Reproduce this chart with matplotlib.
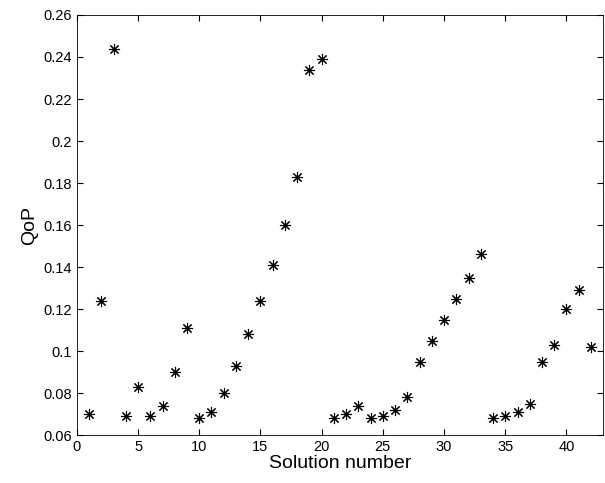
import matplotlib
matplotlib.use("Agg")
import matplotlib.pyplot as plt

plt.rcParams["font.family"] = ["Liberation Sans", "DejaVu Sans"]

solution = list(range(1, 43))
qop = [
    0.070, 0.124, 0.244, 0.069, 0.083, 0.069, 0.074, 0.090, 0.111, 0.068,
    0.071, 0.080, 0.093, 0.108, 0.124, 0.141, 0.160, 0.183, 0.234, 0.239,
    0.068, 0.070, 0.074, 0.068, 0.069, 0.072, 0.078, 0.095, 0.105, 0.115,
    0.125, 0.135, 0.146, 0.068, 0.069, 0.071, 0.075, 0.095, 0.103, 0.120,
    0.129, 0.102,
]
xticks = [0, 5, 10, 15, 20, 25, 30, 35, 40]
yticks = [0.06, 0.08, 0.1, 0.12, 0.14, 0.16, 0.18, 0.2, 0.22, 0.24, 0.26]

fig = plt.figure(figsize=(6.05, 4.83), dpi=100)
ax = fig.add_axes([0.127, 0.099, 0.870, 0.870])
# matlab-style asterisk: + and x combined
ax.plot(solution, qop, linestyle="none", marker=(8, 2, 0), color="black",
        markersize=8, markeredgewidth=0.8)
ax.set_xlim(0, 43)
ax.set_ylim(0.06, 0.26)
ax.set_xticks(xticks)
ax.set_yticks(yticks)
ax.set_yticklabels([f"{v:g}" for v in yticks])
ax.tick_params(direction="in", top=True, right=True, labelsize=10.5, length=4)
for s in ax.spines.values():
    s.set_linewidth(0.6)
ax.set_xlabel("Solution number", fontsize=14, labelpad=1)
ax.set_ylabel("QoP", fontsize=14, labelpad=4)

fig.savefig("out.png", dpi=100)
